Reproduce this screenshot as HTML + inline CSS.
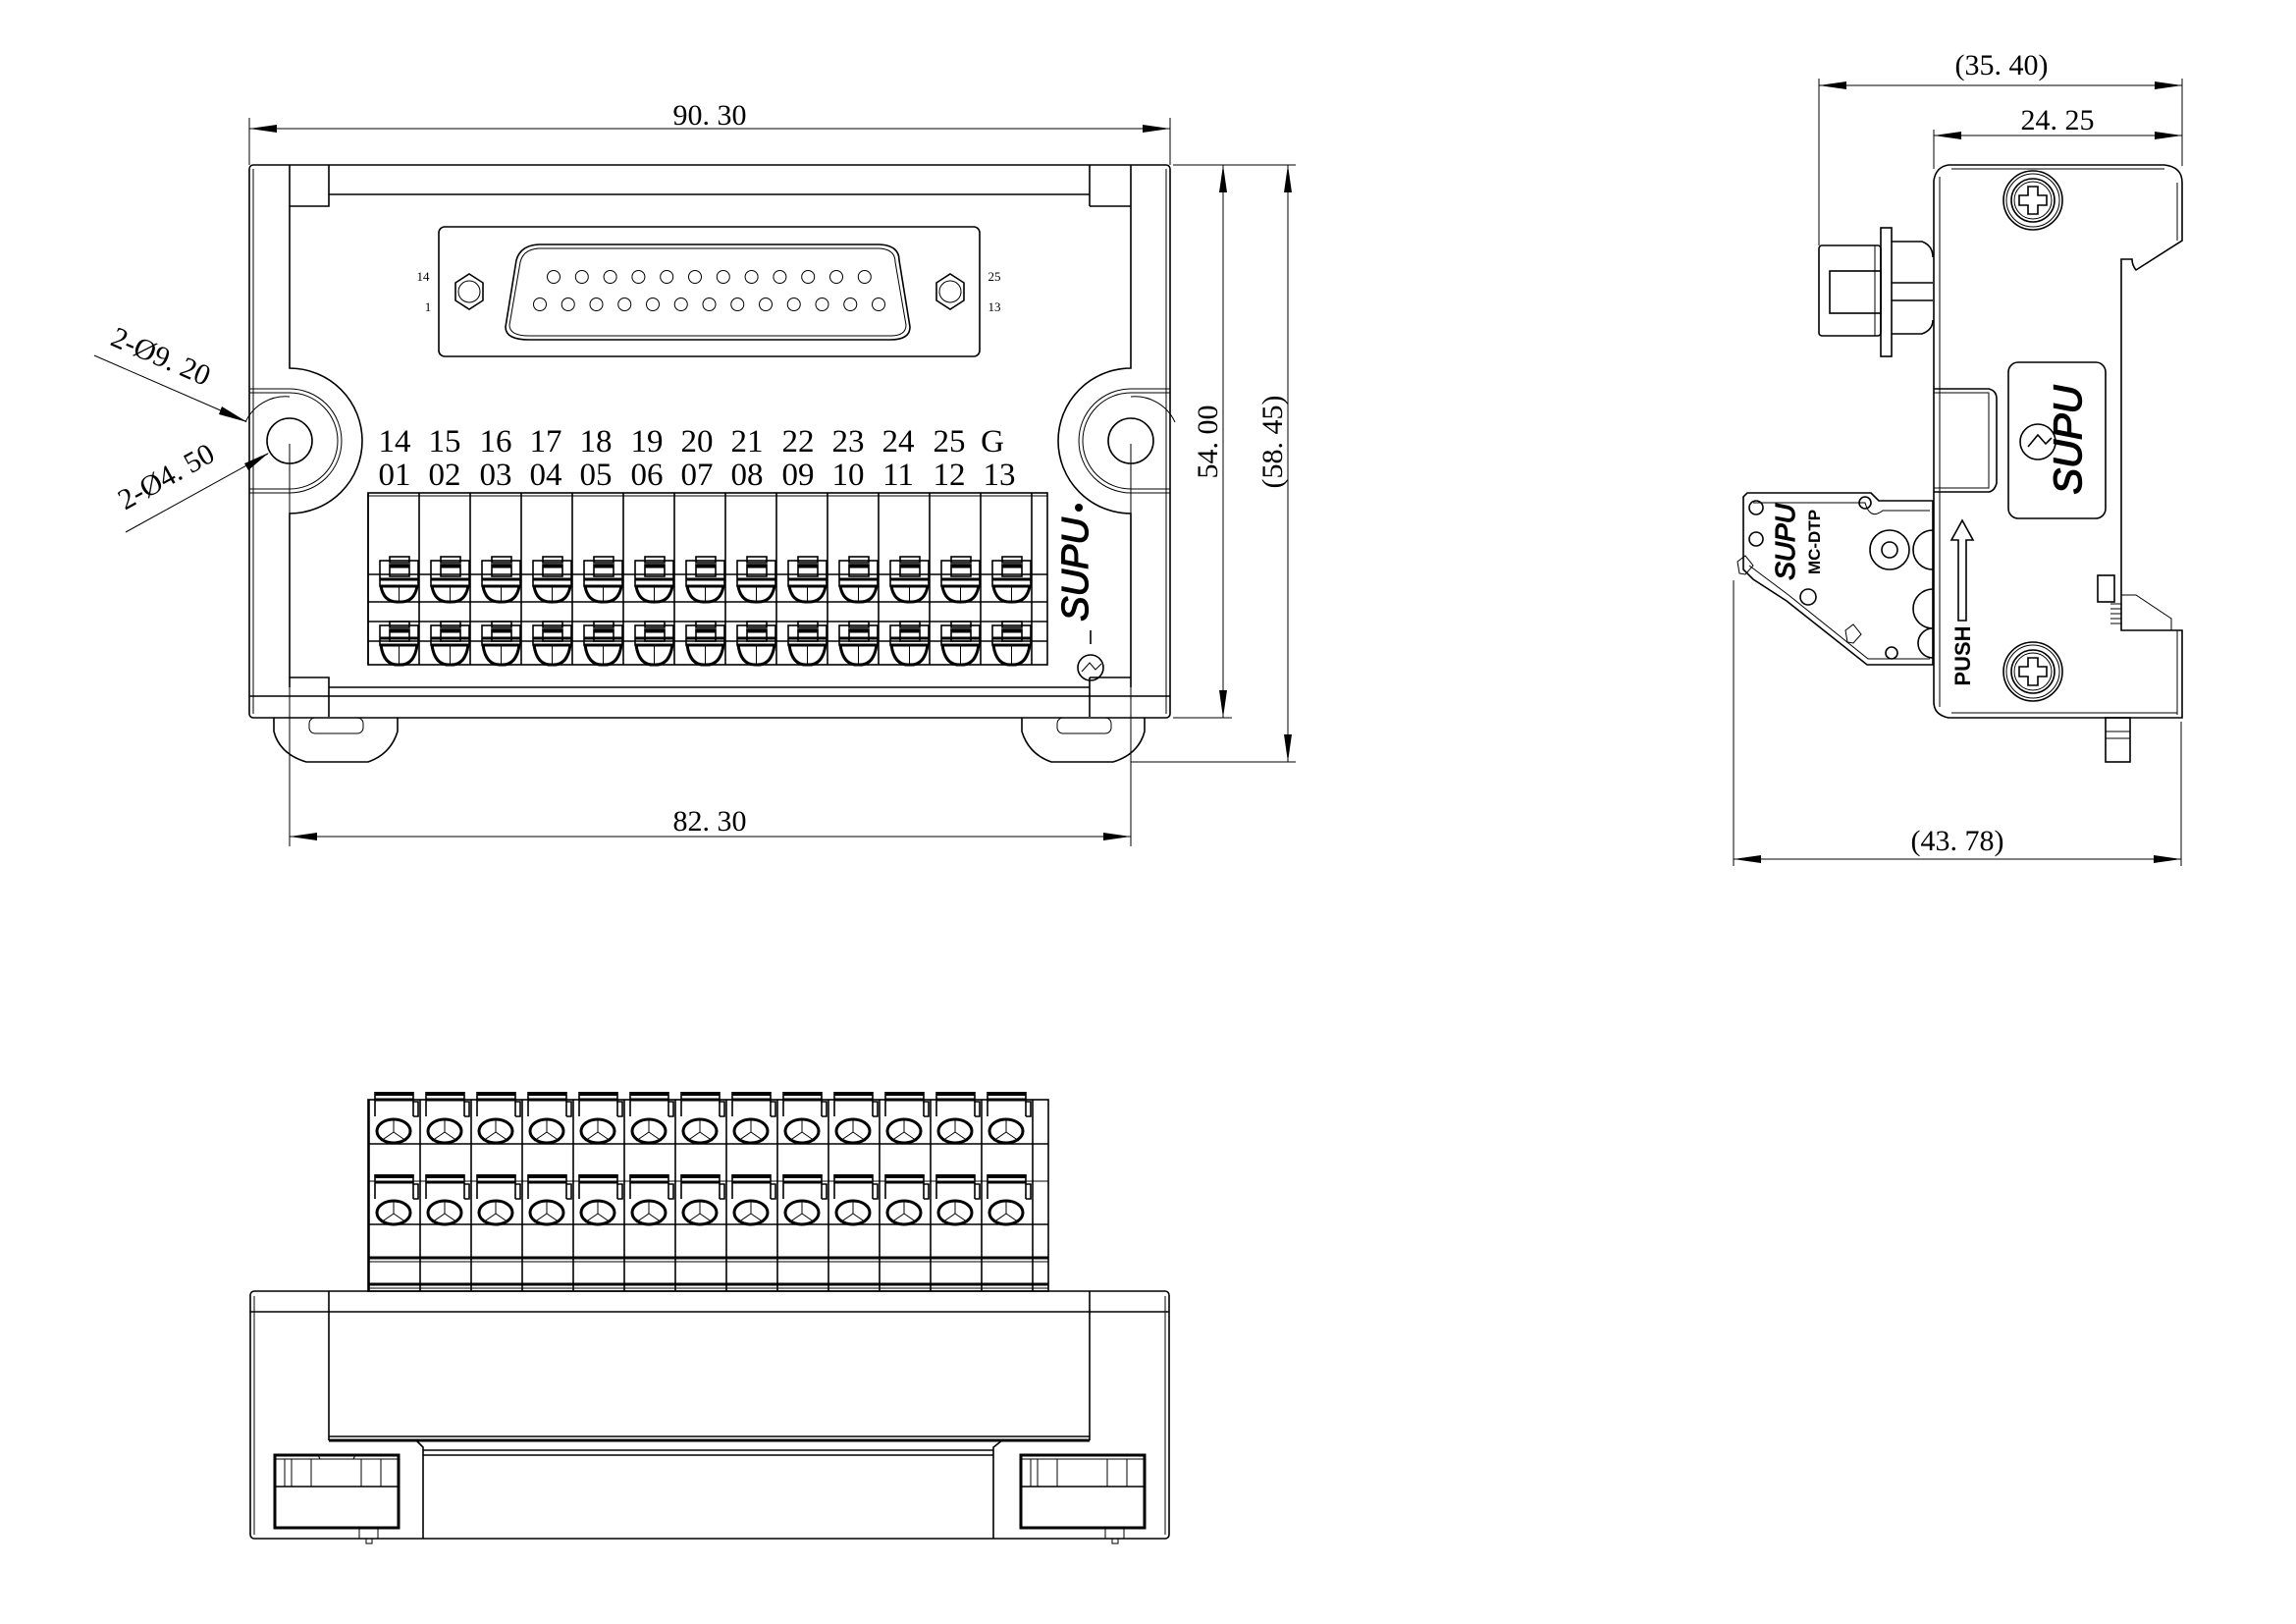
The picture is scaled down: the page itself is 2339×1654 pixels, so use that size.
<!DOCTYPE html>
<html><head><meta charset="utf-8"><style>
html,body{margin:0;padding:0;background:#fff;}
svg{display:block;}
text{font-family:"Liberation Serif",serif;fill:#000;}
.s{fill:none;stroke:#000;stroke-width:1.6;}
.t{fill:none;stroke:#000;stroke-width:1;}
.h{fill:none;stroke:#000;stroke-width:3;}
.b{fill:#000;stroke:none;}
</style></head><body>
<svg id="g" width="2339" height="1654" viewBox="0 0 2339 1654" xmlns="http://www.w3.org/2000/svg">
<!-- ========== FRONT VIEW ========== -->
<g>
<line class="t" x1="254" y1="120" x2="254" y2="168"/><line class="t" x1="1192" y1="120" x2="1192" y2="168"/>
<line class="t" x1="254" y1="131" x2="1192" y2="131"/>
<path class="b" d="M254 131 L282 127 L282 135Z M1192 131 L1164 127 L1164 135Z"/>
<text x="723" y="127" font-size="30" text-anchor="middle">90. 30</text>
<line class="t" x1="1195" y1="168" x2="1320" y2="168"/>
<line class="t" x1="1195" y1="731" x2="1255" y2="731"/>
<line class="t" x1="1152" y1="776" x2="1320" y2="776"/>
<line class="t" x1="1246" y1="168" x2="1246" y2="731"/>
<path class="b" d="M1246 168 L1242 196 L1250 196Z M1246 731 L1242 703 L1250 703Z"/>
<line class="t" x1="1312" y1="168" x2="1312" y2="776"/>
<path class="b" d="M1312 168 L1308 196 L1316 196Z M1312 776 L1308 748 L1316 748Z"/>
<text transform="translate(1240,450) rotate(-90)" font-size="30" text-anchor="middle">54. 00</text>
<text transform="translate(1306,450) rotate(-90)" font-size="30" text-anchor="middle">(58. 45)</text>
<line class="t" x1="295" y1="452" x2="295" y2="862"/><line class="t" x1="1152" y1="452" x2="1152" y2="862"/>
<line class="t" x1="295" y1="852" x2="1152" y2="852"/>
<path class="b" d="M295 852 L323 848 L323 856Z M1152 852 L1124 848 L1124 856Z"/>
<text x="723" y="846" font-size="30" text-anchor="middle">82. 30</text>
<line class="t" x1="96" y1="362" x2="250" y2="429"/>
<path class="b" d="M252 430 L226 414 L223 422Z"/>
<text transform="translate(160,372) rotate(23.5)" font-size="30" text-anchor="middle">2-Ø9. 20</text>
<line class="t" x1="128" y1="542" x2="273" y2="462"/>
<path class="b" d="M274 461 L249 472 L253 479Z"/>
<text transform="translate(174,494) rotate(-29)" font-size="30" text-anchor="middle">2-Ø4. 50</text>
<rect class="s" x="254" y="168" width="938" height="563" rx="4"/>
<line class="t" x1="258" y1="172" x2="258" y2="727"/><line class="t" x1="1188" y1="172" x2="1188" y2="727"/>
<path class="s" d="M295 210 V168 M335 168 V198 M295 210 H335 V198 H1110 M1110 168 V198 M1110 210 V198 M1152 168 V210 M1110 210 H1152"/>
<path class="s" d="M295 210 V375 A74 74 0 0 1 295 523 V700 M1152 210 V375 A74 74 0 0 0 1152 523 V700"/>
<path class="s" d="M295 690 H335 V730 M335 700 H1110 M1110 690 H1152 M1110 690 V730 M254 709 H1192"/>
<path class="t" d="M254 396 H295 A53 53 0 0 1 295 502 H254 M254 400 H295 A49 49 0 0 1 295 498 H254"/>
<path class="t" d="M1192 396 H1152 A53 53 0 0 0 1152 502 H1192 M1192 400 H1152 A49 49 0 0 0 1152 498 H1192"/>
<path class="t" d="M295 404 A45 45 0 0 0 250 430"/><path class="t" d="M1152 404 A45 45 0 0 1 1197 430"/>
<circle class="s" cx="295" cy="449" r="23"/><circle class="s" cx="1152" cy="449" r="23"/>
<path class="s" d="M279 731 V745 Q285 768 312 776 H375 Q398 768 405 745 V731"/>
<rect class="t" x="315" y="731" width="55" height="16" rx="6"/>
<path class="s" d="M1041 731 V745 Q1048 768 1071 776 H1134 Q1160 768 1166 745 V731"/>
<rect class="t" x="1077" y="731" width="55" height="16" rx="6"/>
<rect class="s" x="447" y="231" width="551" height="132" rx="6"/>
<path class="s" d="M549 249 H896 Q916 250 916 265 L927 333 Q927 346 907 346 H539 Q515 346 515 333 L526 265 Q530 250 549 249Z"/>
<path class="t" d="M549 253 H896 Q912 254 912 267 L923 331 Q923 342 907 342 H539 Q519 342 519 331 L530 267 Q533 254 549 253Z"/>
<g id="pins"></g>
<polygon class="s" points="478,279 492,288 492,306 478,315 464,306 464,288"/>
<circle class="t" cx="478" cy="297" r="11"/>
<polygon class="s" points="968,279 982,288 982,306 968,315 954,306 954,288"/>
<circle class="t" cx="968" cy="297" r="11"/>
<text x="431" y="286" font-size="13" text-anchor="middle">14</text>
<text x="436" y="317" font-size="13" text-anchor="middle">1</text>
<text x="1013" y="286" font-size="13" text-anchor="middle">25</text>
<text x="1013" y="317" font-size="13" text-anchor="middle">13</text>
<g font-size="33" text-anchor="middle">
<text x="402" y="460">14</text><text x="453" y="460">15</text><text x="505" y="460">16</text><text x="556" y="460">17</text><text x="607" y="460">18</text><text x="659" y="460">19</text><text x="710" y="460">20</text><text x="761" y="460">21</text><text x="813" y="460">22</text><text x="864" y="460">23</text><text x="915" y="460">24</text><text x="967" y="460">25</text><text x="1011" y="460">G</text>
<text x="402" y="494">01</text><text x="453" y="494">02</text><text x="505" y="494">03</text><text x="556" y="494">04</text><text x="607" y="494">05</text><text x="659" y="494">06</text><text x="710" y="494">07</text><text x="761" y="494">08</text><text x="813" y="494">09</text><text x="864" y="494">10</text><text x="915" y="494">11</text><text x="967" y="494">12</text><text x="1018" y="494">13</text>
</g>
<rect class="s" x="375" y="502" width="692" height="175"/>
<g id="fterm"></g>
<text transform="translate(1108,580) rotate(-90)" font-size="38" font-style="italic" text-anchor="middle" style="font-family:'Liberation Sans',sans-serif" stroke="#000" stroke-width="1.2" fill="#fff">SUPU</text>
<circle class="b" cx="1099" cy="517" r="4"/>
<line class="s" x1="1111" y1="642" x2="1111" y2="656" stroke-width="2.5"/>
<circle class="s" cx="1111" cy="680" r="13"/>
<path class="t" d="M1102 684 L1110 675 L1116 682 L1122 676"/>
</g>

<!-- ========== SIDE VIEW ========== -->
<g>
<line class="t" x1="1853" y1="80" x2="1853" y2="250"/><line class="t" x1="2223" y1="80" x2="2223" y2="169"/>
<line class="t" x1="1853" y1="87" x2="2223" y2="87"/>
<path class="b" d="M1853 87 L1881 83 L1881 91Z M2223 87 L2195 83 L2195 91Z"/>
<text x="2039" y="76" font-size="30" text-anchor="middle">(35. 40)</text>
<line class="t" x1="1970" y1="132" x2="1970" y2="172"/>
<line class="t" x1="1970" y1="138" x2="2223" y2="138"/>
<path class="b" d="M1970 138 L1998 134 L1998 142Z M2223 138 L2195 134 L2195 142Z"/>
<text x="2096" y="132" font-size="30" text-anchor="middle">24. 25</text>
<path class="s" d="M1985 168 H2205 Q2223 170 2223 186 V245 L2176 275 Q2172 270 2172 264 H2161 V642 H2223 V731 H1985 Q1970 728 1970 715 V184 Q1972 170 1985 168Z"/>
<path class="t" d="M1976 180 V720 M1988 172 H2205 M2218 186 V245 M2218 642 V728 M1988 726 H2218"/>
<path class="t" d="M2161 606 H2176 L2212 630 V642"/>
<g class="t"><line x1="2150" y1="615" x2="2161" y2="615"/><line x1="2150" y1="620" x2="2161" y2="620"/><line x1="2150" y1="625" x2="2161" y2="625"/><line x1="2150" y1="630" x2="2161" y2="630"/><line x1="2150" y1="635" x2="2161" y2="635"/></g>
<g id="screws"></g>
<rect class="s" x="2046" y="369" width="99" height="159" rx="10"/>
<text transform="translate(2120,448) rotate(-90)" font-size="40" text-anchor="middle" style="font-family:'Liberation Sans',sans-serif" font-style="italic" fill="#fff" stroke="#000" stroke-width="1.4">SUPU</text>
<circle class="s" cx="2076" cy="450" r="18"/>
<path class="s" d="M2066 455 L2076 443 L2084 452 L2090 446"/>
<path class="s" d="M1970 396 H2026 Q2034 398 2034 406 V492 Q2032 500 2026 501 H1970"/>
<path class="t" d="M1970 400 H2026 V497 H1970"/>
<rect class="s" x="2137" y="586" width="17" height="27"/>
<path class="s" d="M1995 632 V550 H1988 L1999 530 L2010 550 H2003 V632Z"/>
<text transform="translate(2007,668) rotate(-90)" font-size="22" font-weight="bold" text-anchor="middle" style="font-family:'Liberation Sans',sans-serif">PUSH</text>
<rect class="s" x="2145" y="731" width="25" height="45"/>
<line class="t" x1="2145" y1="745" x2="2170" y2="745"/><line class="t" x1="2145" y1="752" x2="2170" y2="752"/>
<rect class="s" x="1853" y="250" width="63" height="92" rx="3"/>
<rect class="s" x="1916" y="232" width="11" height="131"/>
<rect class="s" x="1864" y="276" width="52" height="43"/>
<path class="s" d="M1927 246 H1958 Q1969 250 1969 262 M1927 340 H1958 Q1969 336 1969 326 M1927 288 H1969 M1927 306 H1969"/>
<line class="t" x1="1910" y1="250" x2="1910" y2="342"/>
<path class="s" d="M1780 502 H1906 L1914 510 H1969 V677 H1902 L1820 612 L1786 590 L1776 580 V506Z"/>
<path class="t" d="M1786 512 H1900 Q1905 530 1918 520 H1966 M1782 576 L1822 606 L1903 671 H1966"/>
<circle class="s" cx="1789" cy="517" r="7"/><circle class="s" cx="1789" cy="549" r="7"/>
<circle class="s" cx="1900" cy="512" r="6"/><circle class="s" cx="1842" cy="608" r="8"/>
<circle class="s" cx="1925" cy="560" r="20"/><circle class="s" cx="1925" cy="560" r="8"/>
<circle class="s" cx="1927" cy="665" r="6"/>
<path class="s" d="M1969 540 A14 14 0 0 0 1969 580 M1969 600 A14 14 0 0 0 1969 640 M1969 640 A12 12 0 0 0 1969 670"/>
<text transform="translate(1828,552) rotate(-90)" font-size="28" text-anchor="middle" style="font-family:'Liberation Sans',sans-serif" font-style="italic" fill="#fff" stroke="#000" stroke-width="1.2">SUPU</text>
<text transform="translate(1854,552) rotate(-90)" font-size="17" font-weight="bold" text-anchor="middle" style="font-family:'Liberation Sans',sans-serif">MC-DTP</text>
<path class="t" d="M1770 572 L1778 566 L1786 576 L1778 585 L1772 584Z M1880 642 L1888 636 L1896 646 L1888 655 L1882 654Z"/>
<line class="t" x1="1766" y1="591" x2="1766" y2="882"/><line class="t" x1="2222" y1="735" x2="2222" y2="882"/>
<line class="t" x1="1766" y1="875" x2="2222" y2="875"/>
<path class="b" d="M1766 875 L1794 871 L1794 879Z M2222 875 L2194 871 L2194 879Z"/>
<text x="1994" y="866" font-size="30" text-anchor="middle">(43. 78)</text>
</g>

<!-- ========== BOTTOM VIEW ========== -->
<g>
<rect class="s" x="375" y="1120" width="693" height="195"/>
<g id="bterm"></g>
<line class="h" x1="375" y1="1281" x2="1068" y2="1281"/><line class="t" x1="375" y1="1285" x2="1068" y2="1285"/>
<line class="h" x1="375" y1="1308" x2="1068" y2="1308"/><line class="t" x1="375" y1="1312" x2="1068" y2="1312"/>
<line class="s" x1="375" y1="1165" x2="1068" y2="1165"/><line class="s" x1="375" y1="1247" x2="1068" y2="1247"/>
<line class="t" x1="375" y1="1203" x2="1068" y2="1203"/>
<rect class="s" x="255" y="1315" width="936" height="252" rx="4"/>
<line class="s" x1="255" y1="1336" x2="1191" y2="1336"/>
<line class="s" x1="335" y1="1315" x2="335" y2="1467"/><line class="s" x1="1110" y1="1315" x2="1110" y2="1467"/>
<line class="s" x1="335" y1="1463" x2="1110" y2="1463"/><line class="h" x1="335" y1="1467" x2="1110" y2="1467"/>
<path class="s" d="M424 1467 L431 1474 V1567 M1021 1467 L1012 1474 V1567 M431 1477 H1012 M431 1482 H1012"/>
<path class="t" d="M259 1320 V1563 M1187 1320 V1563"/>
<rect class="h" x="280" y="1482" width="126" height="74"/>
<line class="s" x1="280" y1="1514" x2="406" y2="1514"/>
<path class="t" d="M280 1486 H406 M290 1486 V1514 M297 1486 V1514 M317 1486 V1514 M368 1486 V1514 M388 1486 V1514 M324 1482 L326 1486 M362 1482 L360 1486"/>
<path class="t" d="M366 1556 V1567 H385 V1556 M373 1567 V1572 H379 V1567"/>
<rect class="h" x="1040" y="1482" width="126" height="74"/>
<line class="s" x1="1040" y1="1514" x2="1166" y2="1514"/>
<path class="t" d="M1040 1486 H1166 M1050 1486 V1514 M1057 1486 V1514 M1077 1486 V1514 M1128 1486 V1514 M1148 1486 V1514"/>
<path class="t" d="M1126 1556 V1567 H1145 V1556 M1133 1567 V1572 H1139 V1567"/>
</g>
</svg>
<script>
var NS="http://www.w3.org/2000/svg";
function el(p,t,a){var e=document.createElementNS(NS,t);for(var k in a)e.setAttribute(k,a[k]);p.appendChild(e);return e;}
var pins=document.getElementById('pins');
for(var i=0;i<12;i++)el(pins,'ellipse',{'class':'t',cx:564+i*28.8,cy:282,rx:6.5,ry:6.5});
for(var i=0;i<13;i++)el(pins,'ellipse',{'class':'t',cx:550+i*28.75,cy:310,rx:6.5,ry:6.5});
var f=document.getElementById('fterm');
el(f,'line',{'class':'t',x1:375,y1:505,x2:1067,y2:505});
el(f,'line',{'class':'s',x1:375,y1:585,x2:1067,y2:585});
el(f,'line',{'class':'s',x1:375,y1:613,x2:1067,y2:613});
el(f,'line',{'class':'s',x1:375,y1:633,x2:1067,y2:633});
el(f,'line',{'class':'s',x1:375,y1:653,x2:1067,y2:653});
for(var i=0;i<14;i++){var x=375+i*52;el(f,'line',{'class':'s',x1:x,y1:502,x2:x,y2:677});}
for(var i=0;i<13;i++){var x=375+i*52;
 [[567,597,613],[633,657,677]].forEach(function(r){
  var y=r[0];
  el(f,'rect',{'class':'s',x:x+22,y:y,width:20,height:6});
  el(f,'rect',{'class':'s',x:x+12,y:y+4,width:39,height:r[1]-y-4});
  el(f,'rect',{'class':'s',x:x+22,y:y+8,width:20,height:12});
  el(f,'line',{'class':'h',x1:x+22,y1:y+10,x2:x+42,y2:y+10});
  el(f,'line',{'class':'h',x1:x+12,y1:r[1]-7,x2:x+51,y2:r[1]-7});
  el(f,'line',{'class':'h',x1:x+12,y1:r[1],x2:x+51,y2:r[1]});
  el(f,'path',{'class':'h',d:'M'+(x+13)+' '+r[1]+' Q'+(x+16)+' '+(r[2]+1)+' '+(x+31.5)+' '+r[2]+' Q'+(x+47)+' '+(r[2]+1)+' '+(x+50)+' '+r[1]});
  el(f,'line',{'class':'t',x1:x+31.5,y1:r[1],x2:x+31.5,y2:r[2]});
 });}
var b=document.getElementById('bterm');
for(var i=0;i<14;i++){var x=376+i*52;el(b,'line',{'class':'s',x1:x,y1:1120,x2:x,y2:1315});}
for(var i=0;i<13;i++){var x=376+i*52;
 [[1112,1152],[1196,1235]].forEach(function(r){
  el(b,'rect',{'class':'b',x:x+6,y:r[0],width:39,height:4});
  el(b,'line',{'class':'h',x1:x+6,y1:r[0]+8,x2:x+45,y2:r[0]+8});
  el(b,'path',{'class':'s',d:'M'+(x+6)+' '+r[0]+' V'+(r[0]+25)+' M'+(x+45)+' '+r[0]+' V'+(r[0]+25)+' M'+(x+45)+' '+(r[0]+10)+' H'+(x+50)+' V'+(r[0]+25)+' H'+(x+45)});
  el(b,'ellipse',{'class':'h',cx:x+25,cy:r[1],rx:17,ry:12});
  el(b,'path',{'class':'t',d:'M'+(x+25)+' '+(r[1]-12)+' V'+(r[1]+1)+' L'+(x+12)+' '+(r[1]+10)+' M'+(x+25)+' '+(r[1]+1)+' L'+(x+38)+' '+(r[1]+10)});
 });}
var s=document.getElementById('screws');
[204,684].forEach(function(cy){var cx=2071;
 el(s,'circle',{'class':'s',cx:cx,cy:cy,r:30});
 el(s,'circle',{'class':'t',cx:cx,cy:cy,r:27});
 el(s,'circle',{'class':'s',cx:cx,cy:cy,r:22});
 el(s,'circle',{'class':'t',cx:cx,cy:cy,r:19});
 el(s,'path',{'class':'s',d:'M'+(cx-5)+' '+(cy-14)+' h10 v9 h9 v10 h-9 v9 h-10 v-9 h-9 v-10 h9Z'});
});
</script>
</body></html>
